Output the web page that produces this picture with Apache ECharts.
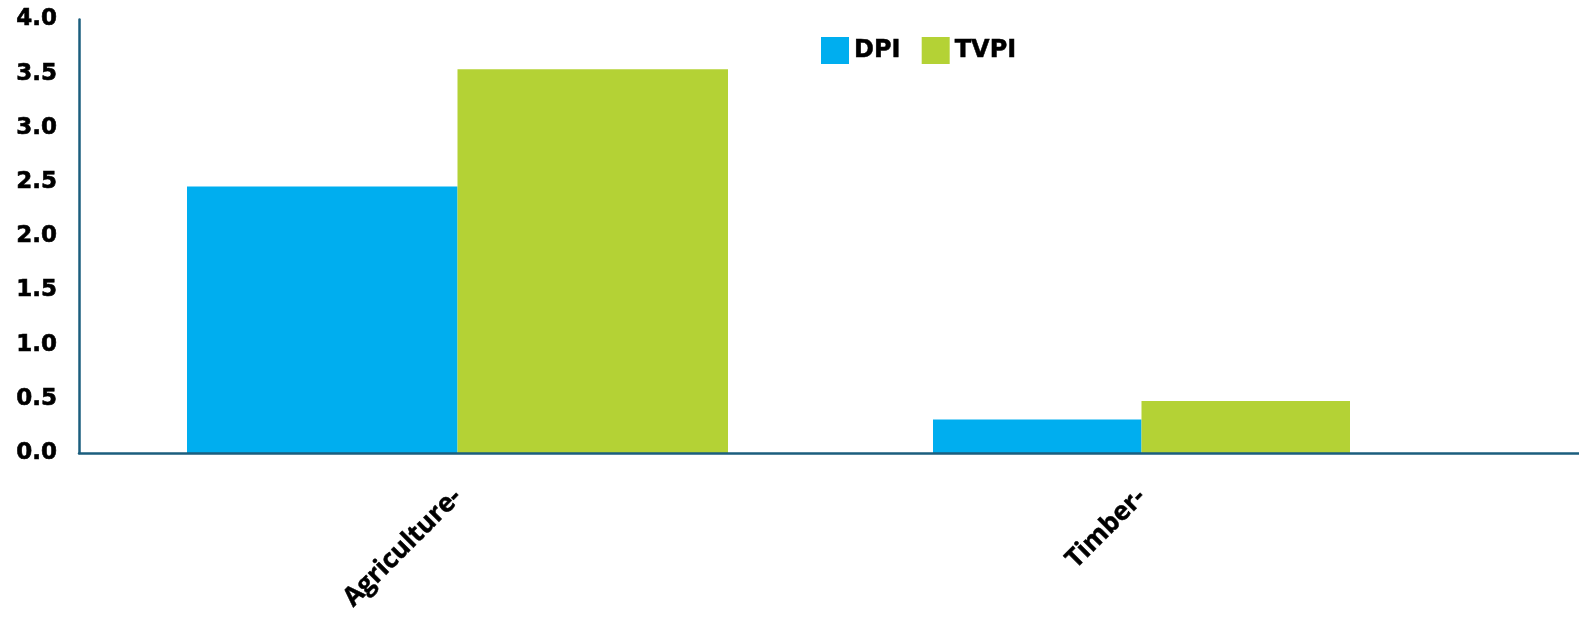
<!DOCTYPE html>
<html>
<head>
<meta charset="utf-8">
<script src="https://cdn.jsdelivr.net/npm/echarts@6/dist/echarts.min.js"></script>
<style>
html,body{margin:0;padding:0;background:#fff;}
#chart{width:1579px;height:619px;}
</style>
</head>
<body>
<div id="chart"></div>
<script>
// ---- data ----
const categories = ['Agriculture-', 'Timber-'];
const seriesNames = ['DPI', 'TVPI'];
const dpiValues = [2.46, 0.31];
const tvpiValues = [3.54, 0.48];
const yTicks = ['0.0','0.5','1.0','1.5','2.0','2.5','3.0','3.5','4.0'];

// ---- layout / style ----
const colors = ['#00AEEF', '#B4D235'];
const axisColor = '#1B5E7E';
const gridTop = 19.5, gridBottom = 166;
const groupLayout = [ {left: 187, width: 541}, {left: 933, width: 417} ];

const chart = echarts.init(document.getElementById('chart'));

const grids = [{ left: 79, right: 0, top: gridTop, bottom: gridBottom }];
const xAxes = [{
  gridIndex: 0, type: 'category', data: [''], z: 10,
  axisLine: { show: true, lineStyle: { color: axisColor, width: 2.5 } },
  axisTick: { show: false }, axisLabel: { show: false }, splitLine: { show: false }
}];
const yAxes = [{
  gridIndex: 0, type: 'value', min: 0, max: 4, interval: 0.5, z: 10,
  axisLine: { show: true, lineStyle: { color: axisColor, width: 2.5 } },
  axisTick: { show: false }, splitLine: { show: false },
  axisLabel: {
    margin: 22, color: '#000', fontFamily: 'DejaVu Sans', fontWeight: 'bold', fontSize: 23,
    textBorderColor: '#000', textBorderWidth: 0.6,
    formatter: v => yTicks[Math.round(v / 0.5)]
  }
}];
const series = [];
const valuesBySeries = [dpiValues, tvpiValues];

categories.forEach((cat, i) => {
  const g = i + 1;
  grids.push({ left: groupLayout[i].left, width: groupLayout[i].width, top: gridTop, bottom: gridBottom });
  xAxes.push({
    gridIndex: g, type: 'category', data: [cat],
    axisLine: { show: false }, axisTick: { show: false },
    axisLabel: {
      rotate: 45, margin: 40, color: '#000', fontFamily: 'Open Sans',
      fontWeight: 'bold', fontSize: 26, textBorderColor: '#000', textBorderWidth: 0.5
    }
  });
  yAxes.push({ gridIndex: g, type: 'value', min: 0, max: 4, interval: 0.5, show: false });
  seriesNames.forEach((name, s) => {
    series.push({
      name: name, type: 'bar', xAxisIndex: g, yAxisIndex: g,
      data: [valuesBySeries[s][i]],
      barGap: '0%', barCategoryGap: '0%',
      itemStyle: { color: colors[s] }
    });
  });
});

chart.setOption({
  animation: false,
  color: colors,
  grid: grids,
  xAxis: xAxes,
  yAxis: yAxes,
  legend: {
    data: seriesNames, left: 821, top: 37, padding: 0,
    icon: 'rect', itemWidth: 28, itemHeight: 27, itemGap: 21,
    textStyle: { color: '#000', fontFamily: 'DejaVu Sans', fontWeight: 'bold', fontSize: 24,
      textBorderColor: '#000', textBorderWidth: 0.5 }
  },
  series: series
});
</script>
</body>
</html>
